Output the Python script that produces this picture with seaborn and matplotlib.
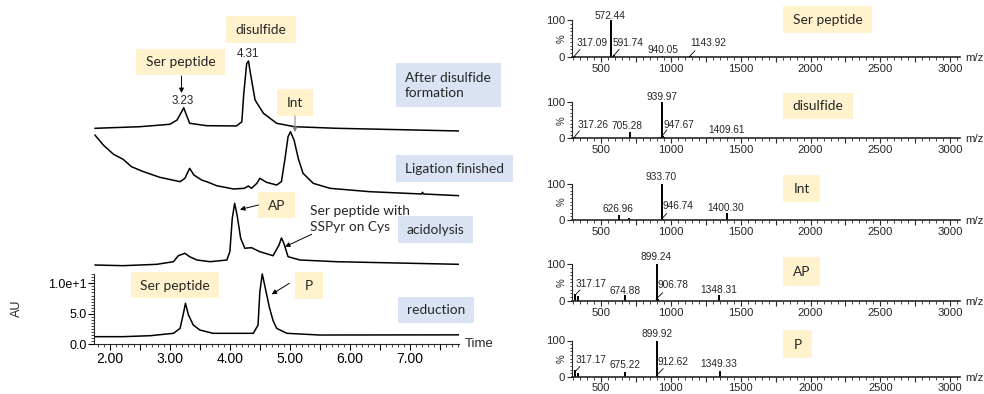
import numpy as np
import seaborn as sns
import matplotlib.pyplot as plt
from matplotlib.patches import Rectangle
from matplotlib.ticker import MultipleLocator, FixedLocator, FuncFormatter

# ---- chromatograms (time / AU) ----
t_disulfide = [1.75, 2.50, 3.00, 3.12, 3.20, 3.23, 3.26, 3.33, 3.61, 4.11, 4.20, 4.23, 4.28, 4.31, 4.34,
               4.42, 4.56, 4.78, 5.08, 5.78, 7.83]
au_disulfide = [1.41, 1.67, 2.07, 2.77, 4.2, 4.79, 4.0, 2.23, 1.84, 1.79, 2.49, 6.87, 12.0, 12.44, 10.6,
                6.05, 3.87, 2.23, 1.67, 1.41, 0.97]

t_ligation = [1.75, 1.89, 2.06, 2.22, 2.36, 2.56, 2.83, 3.17, 3.25, 3.33, 3.40, 3.53, 3.64, 3.78, 4.06,
              4.24, 4.31, 4.36, 4.45, 4.50, 4.61, 4.78, 4.86, 4.92, 4.97, 5.01, 5.07, 5.14, 5.22, 5.39,
              5.67, 6.33, 7.20, 7.21, 7.23, 7.83]
au_ligation = [10.81, 9.17, 7.65, 6.83, 5.61, 4.80, 3.88, 3.16, 3.71, 5.35, 4.25, 3.43, 3.06, 2.50, 1.96,
               2.07, 2.45, 2.07, 2.89, 3.71, 3.06, 2.61, 3.16, 6.99, 10.53, 11.35, 9.99, 6.99, 4.53, 2.89,
               2.07, 1.52, 1.14, 1.42, 1.14, 0.86]

t_acidolysis = [1.75, 2.22, 2.78, 3.06, 3.14, 3.25, 3.33, 3.45, 3.67, 3.95, 4.00, 4.04, 4.08, 4.12, 4.18,
                4.25, 4.36, 4.50, 4.72, 4.82, 4.86, 4.90, 4.97, 5.17, 5.78, 7.83]
au_acidolysis = [1.0, 0.89, 1.11, 1.54, 2.52, 2.92, 2.36, 1.82, 1.54, 1.82, 3.18, 8.66, 11.11, 9.20, 5.38,
                 3.74, 3.84, 3.18, 2.52, 4.28, 5.43, 4.56, 2.36, 1.82, 1.54, 1.11]

t_reduction = [1.75, 2.22, 2.67, 3.06, 3.17, 3.22, 3.26, 3.31, 3.39, 3.50, 3.72, 4.39, 4.47, 4.50, 4.54,
               4.58, 4.66, 4.72, 4.78, 4.95, 5.50, 7.83]
au_reduction = [1.25, 1.25, 1.41, 1.80, 2.62, 4.80, 6.72, 4.80, 3.16, 2.34, 1.80, 1.80, 3.16, 8.62, 11.52,
                9.72, 6.0, 3.9, 2.62, 1.80, 1.52, 1.55]

trace_offsets = [34, 23.5, 12, 0]

# ---- mass spectra (m/z, relative intensity %) ----
mz_ser = [317.09, 572.44, 591.74, 940.05, 1143.92]
rel_ser = [3, 100, 4, 2, 1.5]
mz_disulfide = [317.26, 705.28, 925.0, 939.97, 947.67, 960.0, 1409.61]
rel_disulfide = [4, 17, 4, 100, 6, 3, 4]
mz_int = [626.96, 700.0, 933.70, 946.74, 1400.30]
rel_int = [14, 5, 100, 3, 20]
mz_ap = [317.17, 338.0, 674.88, 899.24, 906.78, 1348.31]
rel_ap = [19, 12, 15, 100, 4, 15]
mz_p = [317.17, 338.0, 675.22, 899.92, 912.62, 1349.33]
rel_p = [18, 10, 13, 100, 4, 16]

ms_names = ["Ser peptide", "disulfide", "Int", "AP", "P"]

W, H = 984, 394
YELLOW = "#FFF2CC"
BLUE = "#DAE3F3"
BOXFONT = "Lato"

sns.set_style("ticks")
plt.rcParams["font.family"] = ["Liberation Sans", "DejaVu Sans"]

fig = plt.figure(figsize=(W / 100, H / 100), dpi=100)


def ftext(x, y, s, **kw):
    fig.text(x / W, 1 - y / H, s, **kw)


def fbox(x0, y0, x1, y1, color, label=None, **kw):
    fig.add_artist(Rectangle((x0 / W, 1 - y1 / H), (x1 - x0) / W, (y1 - y0) / H,
                             transform=fig.transFigure, facecolor=color, edgecolor="none", zorder=1))
    if label is not None:
        ftext((x0 + x1) / 2, (y0 + y1) / 2 + 0.5, label, ha="center", va="center",
              family=BOXFONT, fontsize=9.9, zorder=2, **kw)


def farrow(x0, y0, x1, y1, color="black", style="-|>", lw=0.7):
    fig.add_artist(plt.Annotation("", xy=(x1, H - y1), xycoords="figure pixels",
                                  xytext=(x0, H - y0), textcoords="figure pixels",
                                  arrowprops=dict(arrowstyle=style, color=color, lw=lw,
                                                  mutation_scale=7, shrinkA=0, shrinkB=0)))


# ================= left: chromatograms =================
axL = fig.add_axes([94.3 / W, 1 - 344.3 / H, (459 - 94.3) / W, 52 * 6.1 / H])
traces = [(t_disulfide, au_disulfide), (t_ligation, au_ligation),
          (t_acidolysis, au_acidolysis), (t_reduction, au_reduction)]
for (t, au), off in zip(traces, trace_offsets):
    sns.lineplot(x=t, y=np.array(au) + off, ax=axL, color="black", lw=1.1,
                 estimator=None, sort=False)
axL.set_xlim(1.74, 7.82)
axL.set_ylim(0, 52)
for s in ["top", "right"]:
    axL.spines[s].set_visible(False)
axL.spines["left"].set_bounds(0, 11.5)
axL.spines["left"].set_linewidth(0.8)
axL.spines["bottom"].set_linewidth(0.8)
axL.yaxis.set_major_locator(FixedLocator([0, 5, 10]))
axL.yaxis.set_major_formatter(FuncFormatter(lambda v, p: {0: "0.0", 5: "5.0", 10: "1.0e+1"}.get(v, "")))
axL.yaxis.set_minor_locator(FixedLocator(np.arange(0, 11.6, 0.5)))
axL.xaxis.set_major_locator(MultipleLocator(0.5))
axL.xaxis.set_major_formatter(FuncFormatter(lambda v, p: f"{v:.2f}" if abs(v - round(v)) < 1e-6 else ""))
axL.xaxis.set_minor_locator(MultipleLocator(0.1))
axL.tick_params(axis="both", which="major", length=4, width=0.8, pad=1.5, colors="black")
axL.tick_params(axis="both", which="minor", length=2, width=0.6)
axL.tick_params(axis="x", labelsize=10)
axL.tick_params(axis="y", labelsize=9)
axL.set_xlabel("")
axL.set_ylabel("")

ftext(17, 308, "AU", rotation=90, ha="center", va="center", fontsize=9)
ftext(465, 344, "Time", ha="left", va="center", fontsize=9.5)

# peak labels and boxes
ftext(247.5, 54, "4.31", ha="center", va="center", fontsize=8.3)
ftext(182.7, 101, "3.23", ha="center", va="center", fontsize=8.3)
fbox(226, 16, 296, 43, YELLOW, "disulfide")
fbox(136, 49, 225, 75, YELLOW, "Ser peptide")
fbox(396, 63, 501, 107, BLUE)
ftext(405, 85.5, "After disulfide\nformation", ha="left", va="center", family=BOXFONT,
      fontsize=9.9, linespacing=1.3, zorder=2)
fbox(277, 89, 313, 116, YELLOW, "Int")
fbox(396, 155, 513, 182, BLUE, "Ligation finished")
fbox(258, 192, 295, 218, YELLOW, "AP")
fbox(398, 216, 473, 243, BLUE, "acidolysis")
fbox(131, 272, 219, 298, YELLOW, "Ser peptide")
fbox(295, 272, 323, 299, YELLOW, "P")
fbox(398, 297, 474, 323, BLUE, "reduction")
ftext(310, 219, "Ser peptide with\nSSPyr on Cys", ha="left", va="center", family=BOXFONT,
      fontsize=9.9, linespacing=1.35)

farrow(181.5, 76, 181.5, 93)
farrow(295, 116, 295, 132, color="#7f7f7f")
farrow(258.5, 205, 240, 209.5)
farrow(311.7, 234.3, 285, 246.7)
farrow(289.3, 283.3, 271.7, 294.3)

# ================= right: mass spectra =================
spectra = [(mz_ser, rel_ser), (mz_disulfide, rel_disulfide), (mz_int, rel_int),
           (mz_ap, rel_ap), (mz_p, rel_p)]
zero_rows = [56.7, 138.3, 220, 300.7, 377.0]
shift5 = -4.7  # last panel nudged up so its tick labels stay inside the figure
box_rows = [(783, 6, 872, 33), (783, 93, 853, 119), (783, 175, 820, 202),
            (783, 257, 820, 286), (783, 335 + shift5, 812, 363 + shift5)]
label_pos = [
    [(591.7, 43.3), (610, 15.7), (628.3, 43.3), (663.3, 50), (708.3, 43.3)],
    [(592.7, 125), (627.3, 125.7), None, (661.7, 96.7), (679.3, 124.5), None, (726.7, 130)],
    [(617.7, 209.3), None, (660.7, 176.7), (678.3, 205.7), (726, 207.7)],
    [(591, 284), None, (625, 291), (656, 257.3), (673.3, 285), (718.3, 290)],
    [(591, 364.3 + shift5), None, (625, 370 + shift5), (656.7, 339 + shift5), (673.3, 366.7 + shift5),
     (719, 369 + shift5)],
]
leaders = [
    [(573.3, 57.3, 580, 49.5), (612.7, 56.7, 619.3, 49.3), (689.3, 56.7, 695, 50.7)],
    [(573.3, 138.3, 579.3, 131), (661.7, 136.7, 666.7, 130)],
    [(661.7, 219, 666.7, 213.5)],
    [(574.3, 296, 580, 290), (656, 299.3, 662.7, 292.7)],
    [(574.3, 377.3 + shift5, 580, 371 + shift5), (656.7, 380 + shift5, 663.3, 373.3 + shift5)],
]

for i, (mz, rel) in enumerate(spectra):
    y0 = zero_rows[i]
    ax = fig.add_axes([572.3 / W, 1 - y0 / H, (960 - 572.3) / W, 36.5 / H])
    ax.vlines(mz, 0, rel, color="black", lw=1.4)
    ax.set_xlim(295, 3070)
    ax.set_ylim(0, 100)
    for s in ["top", "right"]:
        ax.spines[s].set_visible(False)
    ax.spines["left"].set_linewidth(0.8)
    ax.spines["bottom"].set_linewidth(1.2)
    ax.patch.set_alpha(0)
    ax.yaxis.set_major_locator(FixedLocator([0, 100]))
    ax.yaxis.set_minor_locator(MultipleLocator(10))
    ax.xaxis.set_major_locator(MultipleLocator(250))
    ax.xaxis.set_major_formatter(FuncFormatter(lambda v, p: f"{int(v)}" if v % 500 == 0 else ""))
    ax.xaxis.set_minor_locator(MultipleLocator(50))
    ax.tick_params(axis="both", which="major", length=3.5, width=0.8, pad=1.5, labelsize=8.2)
    ax.tick_params(axis="both", which="minor", length=1.8, width=0.6)
    if i == len(spectra) - 1:
        ax.tick_params(axis="x", which="major", pad=0.5, labelsize=8)
    ftext(561.5, y0 - 18, "%", rotation=90, ha="center", va="center", fontsize=7)
    ftext(965, y0 + 1, "m/z", ha="left", va="center", fontsize=8.2)
    for m, pos in zip(mz, label_pos[i]):
        if pos is not None:
            ftext(pos[0], pos[1], f"{m:.2f}", ha="center", va="center", fontsize=7.3)
    for ln in leaders[i]:
        farrow(*ln, style="-", lw=0.6)
    bx = box_rows[i]
    fbox(*bx, YELLOW, ms_names[i])

fig.savefig("out.png", dpi=100)
